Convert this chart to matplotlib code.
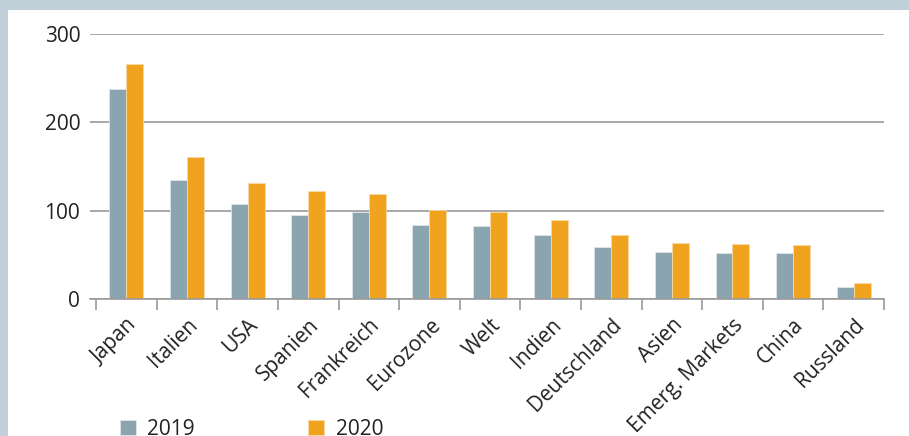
import matplotlib

matplotlib.use("Agg")
import matplotlib.pyplot as plt
import numpy as np
from matplotlib.patches import Rectangle

plt.rcParams["font.family"] = ["Open Sans", "DejaVu Sans"]

# --- data ---
countries = ["Japan", "Italien", "USA", "Spanien", "Frankreich", "Eurozone", "Welt",
             "Indien", "Deutschland", "Asien", "Emerg. Markets", "China", "Russland"]
vals_2019 = [237.5, 134.5, 108, 95, 98, 83.6, 83, 72.3, 59.4, 53, 52, 52, 13.2]
vals_2020 = [266, 161, 131, 122.5, 118.9, 101, 98.4, 89.3, 72.8, 63, 61.8, 61.5, 18]
years = ["2019", "2020"]
yticks = [0, 100, 200, 300]

C2019, C2020 = "#8ba5b0", "#f0a31f"
FRAME = "#c2d0d9"
GRID = "#9a9a9a"
TXT = "#222222"
FS = 15

W, H = 909, 436
fig = plt.figure(figsize=(W / 100, H / 100), dpi=100, facecolor=FRAME)
# white panel inside the gray-blue frame
fig.patches.append(Rectangle((8 / W, 0), 1 - 8 / W, 1 - 10 / H, transform=fig.transFigure,
                             facecolor="white", edgecolor="none", zorder=-10))

ax = fig.add_axes([90 / W, (H - 299) / H, (884 - 90) / W, (299 - 34) / H])
ax.set_facecolor("none")

x = np.arange(len(countries))
bw = 0.28
b1 = ax.bar(x - bw / 2, vals_2019, bw, color=C2019, edgecolor="#dfe6ea", linewidth=0.6,
            label=years[0], zorder=3)
b2 = ax.bar(x + bw / 2, vals_2020, bw, color=C2020, edgecolor="#f8d9a0", linewidth=0.6,
            label=years[1], zorder=3)

ax.set_xlim(-0.6, len(countries) - 0.5)
ax.set_ylim(0, 300)
ax.set_yticks(yticks)
ax.set_yticklabels([str(v) for v in yticks], fontsize=FS, color=TXT)
ax.tick_params(axis="y", length=0, pad=7)
ax.yaxis.grid(True, color=GRID, linewidth=1.2, zorder=1)
ax.set_axisbelow(True)

# ticks at category boundaries, labels centred on groups
ax.set_xticks(np.arange(len(countries) + 1) - 0.5)
ax.set_xticklabels([])
ax.tick_params(axis="x", which="major", length=8, width=1.2, color=GRID, direction="out")
ax.set_xticks(x, minor=True)
ax.set_xticklabels(countries, minor=True, rotation=45, ha="right", rotation_mode="anchor",
                   fontsize=FS, color=TXT)
ax.tick_params(axis="x", which="minor", length=0, pad=11)

for s in ["left", "right", "top"]:
    ax.spines[s].set_visible(False)
ax.spines["bottom"].set_color(GRID)
ax.spines["bottom"].set_linewidth(1.2)
ax.spines["bottom"].set_zorder(4)

# legend sits at the bottom edge and is partly cut off, as in the source
fig.legend(handles=[b1, b2], loc="upper left", bbox_to_anchor=(101 / W, 36 / H),
           ncol=2, frameon=False, fontsize=FS, handlelength=0.77, handleheight=0.77,
           handletextpad=0.55, columnspacing=5.45, labelcolor=TXT)

fig.savefig("out.png", dpi=100, facecolor=FRAME)
